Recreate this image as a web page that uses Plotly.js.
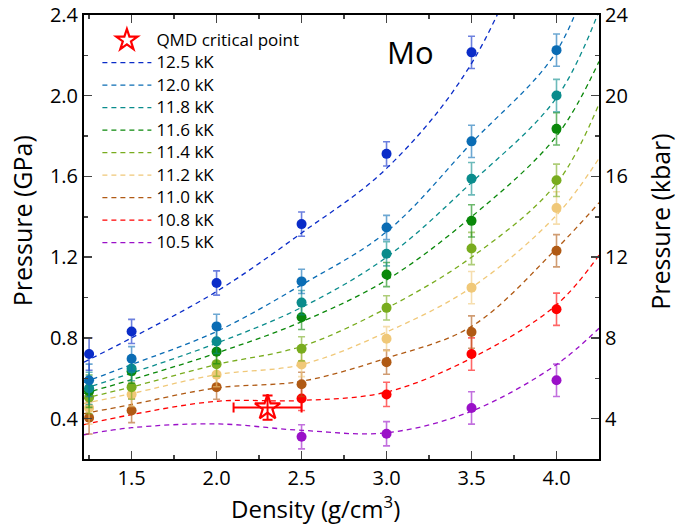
<!DOCTYPE html>
<html>
<head>
<meta charset="utf-8">
<script src="https://cdn.plot.ly/plotly-3.0.1.min.js"></script>
<style>html,body{margin:0;padding:0;background:#fff;}#chart{width:689px;height:525px;}</style>
</head>
<body>
<div id="chart"></div>
<script>
// Measured densities (g/cm3)
const density = [1.25, 1.5, 2.0, 2.5, 3.0, 3.5, 4.0];
// Pressure (GPa) per temperature
const p12_5 = [0.72, 0.832, 1.072, 1.364, 1.712, 2.215, null];
const p12_0 = [0.59, 0.697, 0.857, 1.08, 1.347, 1.774, 2.226];
const p11_8 = [0.55, 0.648, 0.783, 0.975, 1.217, 1.589, 2.001];
const p11_6 = [0.536, 0.635, 0.732, 0.902, 1.114, 1.38, 1.836];
const p11_4 = [0.505, 0.556, 0.67, 0.746, 0.949, 1.243, 1.581];
const p11_2 = [0.453, 0.52, 0.618, 0.668, 0.796, 1.049, 1.444];
const p11_0 = [0.404, 0.44, 0.556, 0.57, 0.68, 0.829, 1.232];
const p10_8 = [null, null, null, 0.50, 0.52, 0.72, 0.942];
const p10_5 = [null, null, null, 0.31, 0.325, 0.453, 0.59];
const pErr = [0.08, 0.06, 0.06, 0.06, 0.06, 0.08, 0.08];

// Fitted curves
const fitDensity = [1.22, 1.5, 2.0, 2.5, 3.0, 3.5, 4.0, 4.25];
const f12_5 = [0.68, 0.80, 1.03, 1.32, 1.64, 2.16, 3.1, 3.6];
const f12_0 = [0.58, 0.668, 0.832, 1.063, 1.326, 1.766, 2.22, 2.75];
const f11_8 = [0.548, 0.626, 0.774, 0.951, 1.20, 1.57, 1.99, 2.42];
const f11_6 = [0.525, 0.593, 0.725, 0.88, 1.087, 1.40, 1.80, 2.17];
const f11_4 = [0.50, 0.557, 0.668, 0.758, 0.947, 1.20, 1.565, 1.96];
const f11_2 = [0.475, 0.524, 0.618, 0.668, 0.829, 1.05, 1.408, 1.69];
const f11_0 = [0.425, 0.47, 0.552, 0.585, 0.70, 0.857, 1.243, 1.47];
const f10_8 = [0.37, 0.42, 0.486, 0.49, 0.532, 0.70, 0.964, 1.21];
const f10_5 = [0.32, 0.355, 0.374, 0.342, 0.33, 0.437, 0.668, 0.848];

// QMD critical point
const critDensity = [2.3];
const critPressure = [0.455];
const critDensityErr = [0.2];
const critPressureErr = [0.06];

const labels = ['12.5 kK','12.0 kK','11.8 kK','11.6 kK','11.4 kK','11.2 kK','11.0 kK','10.8 kK','10.5 kK'];
const points = [p12_5,p12_0,p11_8,p11_6,p11_4,p11_2,p11_0,p10_8,p10_5];
const fits = [f12_5,f12_0,f11_8,f11_6,f11_4,f11_2,f11_0,f10_8,f10_5];
const colors = ['#0a2cc8','#0a6cb4','#0a8c8c','#0a880a','#78ac1e','#f0c878','#b05a14','#ff0000','#9a10c8'];

function rgba(hex,a){const n=parseInt(hex.slice(1),16);return `rgba(${n>>16},${(n>>8)&255},${n&255},${a})`;}
function big(t){return '<span style="font-size:17px">'+t+'</span>';}

const FONT = 'Open Sans, Liberation Sans, sans-serif';
const traces = [];
fits.forEach((f,i)=>{
  traces.push({x:fitDensity,y:f,mode:'lines',type:'scatter',name:big(labels[i]),
    line:{color:colors[i],width:1.3,dash:'5px,4px',shape:'spline',smoothing:1},
    legendrank:i+2,hoverinfo:'skip'});
});
for(let i=points.length-1;i>=0;i--){
  traces.push({x:density,y:points[i],mode:'markers',type:'scatter',showlegend:false,
    marker:{color:colors[i],size:10},
    error_y:{type:'data',array:pErr,color:rgba(colors[i],0.6),thickness:1.6,width:3.5}});
}
traces.push({x:critDensity,y:critPressure,mode:'markers',type:'scatter',name:big('QMD critical point'),
  marker:{symbol:'star-open',size:19,color:'#ff0000',line:{width:2.2,color:'#ff0000'}},
  error_x:{type:'data',array:critDensityErr,color:'#ff0000',thickness:2,width:5},
  error_y:{type:'data',array:critPressureErr,color:'#ff0000',thickness:2,width:5},
  legendrank:1});
// invisible trace to show the kbar axis
traces.push({x:[density[0]],y:[10],yaxis:'y2',mode:'markers',marker:{opacity:0},showlegend:false,hoverinfo:'skip'});

const axisCommon = {ticks:'inside',ticklen:8,tickwidth:1.5,showline:true,linewidth:2,linecolor:'#000',
  showgrid:false,zeroline:false,tickfont:{size:20}};

const layout = {
  width:689,height:525,
  margin:{l:84,r:90,t:15,b:66},
  paper_bgcolor:'#fff',plot_bgcolor:'#fff',
  font:{family:FONT,color:'#000'},
  showlegend:true,
  legend:{x:0.026,y:0.98,xanchor:'left',yanchor:'top',bgcolor:'rgba(0,0,0,0)',font:{size:15,family:FONT},tracegroupgap:0,itemwidth:49},
  xaxis:Object.assign({},axisCommon,{range:[1.22,4.25],tick0:1.0,dtick:0.5,tickformat:'.1f',mirror:'ticks',
    minor:{dtick:0.25,ticks:'inside',ticklen:4,tickwidth:1.5}}),
  yaxis:Object.assign({},axisCommon,{range:[0.2,2.4001],tick0:0.4,dtick:0.4,tickformat:'.1f',
    minor:{dtick:0.2,ticks:'inside',ticklen:4,tickwidth:1.5}}),
  yaxis2:Object.assign({},axisCommon,{range:[2,24.001],tick0:4,dtick:4,overlaying:'y',side:'right',anchor:'x',
    minor:{dtick:2,ticks:'inside',ticklen:4,tickwidth:1.5}}),
  annotations:[
    {x:3.14,y:2.215,xref:'x',yref:'y',text:'Mo',showarrow:false,font:{size:31,family:FONT}},
    {x:0.45,y:-0.11,xref:'paper',yref:'paper',text:'Density (g/cm<sup>3</sup>)',showarrow:false,font:{size:24},xanchor:'center',yanchor:'middle'},
    {x:-0.12,y:0.536,xref:'paper',yref:'paper',text:'Pressure (GPa)',textangle:-90,showarrow:false,font:{size:25},xanchor:'center',yanchor:'middle'},
    {x:1.118,y:0.536,xref:'paper',yref:'paper',text:'Pressure (kbar)',textangle:-90,showarrow:false,font:{size:25},xanchor:'center',yanchor:'middle'}
  ]
};
Plotly.newPlot('chart',traces,layout,{displayModeBar:false,staticPlot:true});
</script>
</body>
</html>
